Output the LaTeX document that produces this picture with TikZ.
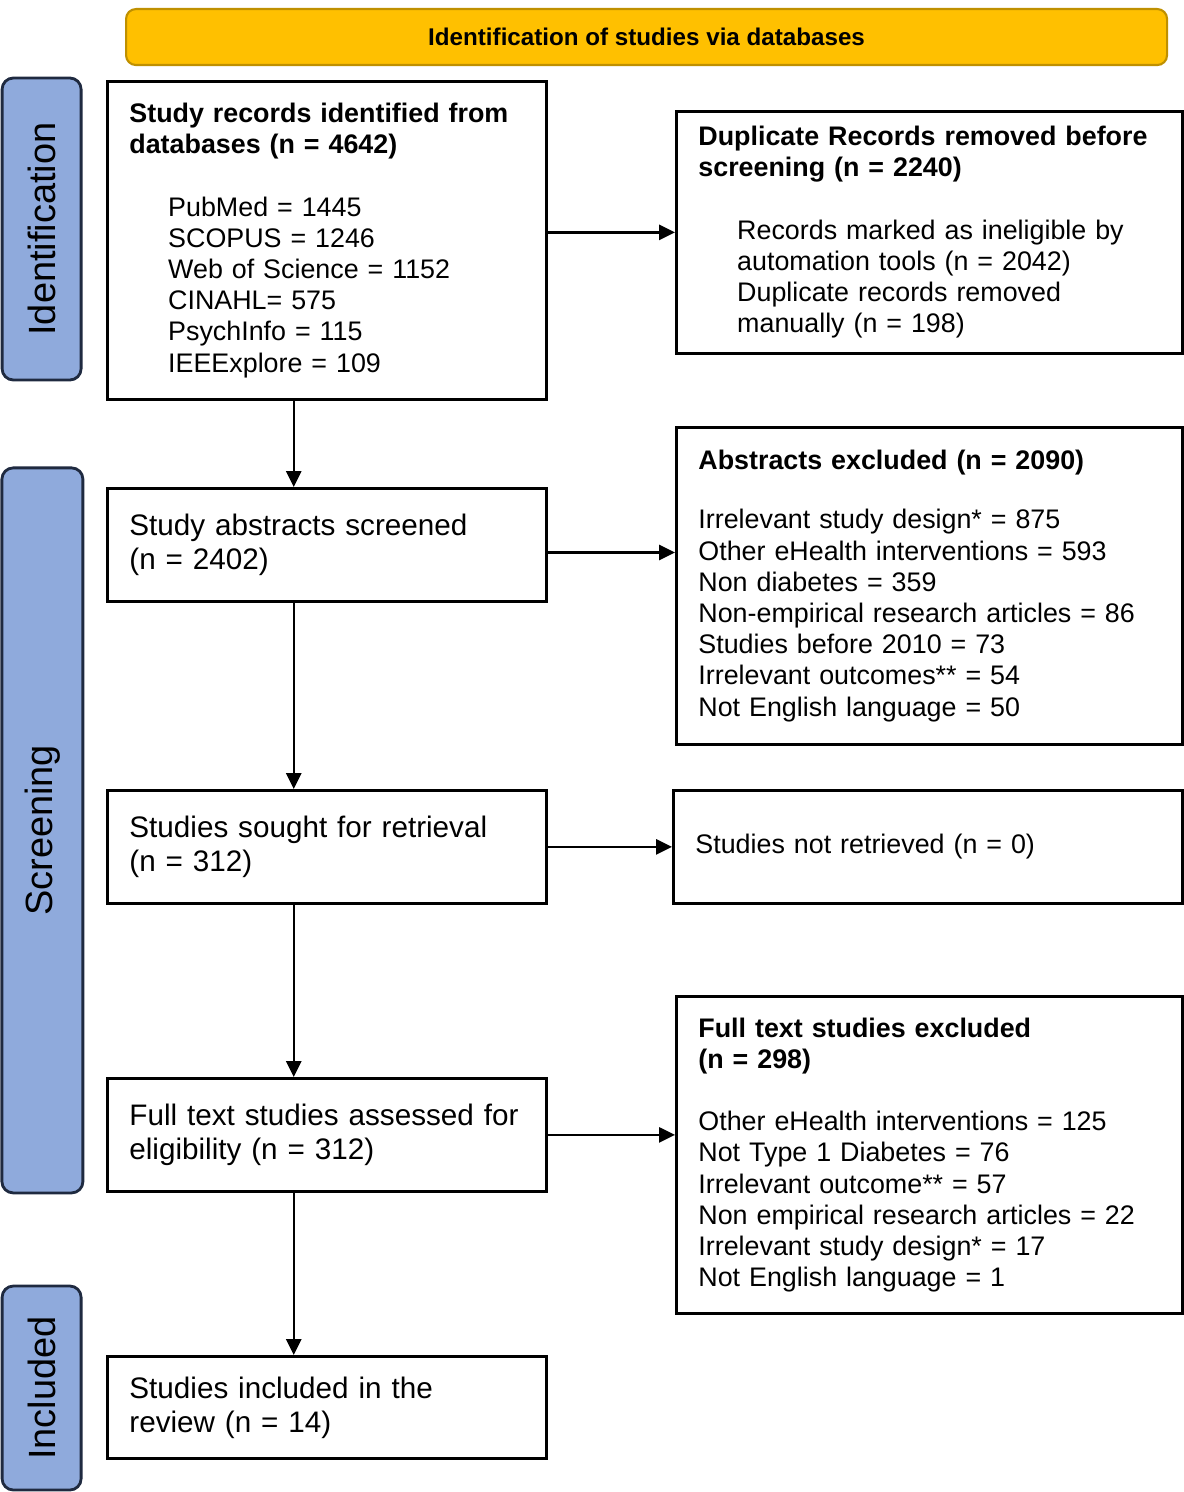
\documentclass[tikz,border=0pt]{standalone}
\usepackage{fontspec}
\setmainfont{Liberation Sans}
\usetikzlibrary{positioning, arrows.meta, calc}

\definecolor{bannergold}{HTML}{FFC000}
\definecolor{banneredge}{HTML}{BF9000}
\definecolor{phaseblue}{HTML}{8FAADC}
\definecolor{phaseedge}{HTML}{1F2A40}

\newcommand{\ind}{\hspace*{9.7mm}}

\begin{document}
\begin{tikzpicture}[
    box/.style={
        rectangle,
        draw=black,
        line width=2pt,
        anchor=north west,
        inner xsep=0.55cm,
        inner ysep=0pt,
        align=left,
        font=\fontsize{19.1}{22.2}\selectfont
    },
    leftbox/.style={box, text width=9.875cm, minimum width=10.975cm},
    rightbox/.style={box, text width=11.55cm, minimum width=12.65cm},
    mainbox/.style={leftbox, minimum height=2.825cm, font=\fontsize{21.1}{24.2}\selectfont},
    phase/.style={
        rectangle,
        draw=phaseedge,
        fill=phaseblue,
        line width=2pt,
        rounded corners=8pt,
        rotate=90,
        font=\fontsize{27}{30}\selectfont
    },
    banner/.style={
        rectangle,
        draw=banneredge,
        fill=bannergold,
        line width=1.5pt,
        rounded corners=7pt,
        anchor=north west,
        minimum width=26.025cm,
        minimum height=1.4cm,
        font=\fontsize{17.2}{20}\selectfont\bfseries
    },
    arrow/.style={-{Triangle[length=4mm, width=3.8mm]}, line width=1.6pt}
]

\useasboundingbox (0,0) rectangle (29.6,-37.3);

% Title
\node[banner] (title) at (3.125,-0.2) {Identification of studies via databases};

% Phases
\node[phase, minimum width=7.55cm, minimum height=1.975cm] (ident) at (1.04,-5.725) {Identification};
\node[phase, minimum width=18.125cm, minimum height=2.025cm] (screen) at (1.06,-20.76) {Screening};
\node[phase, minimum width=5.1cm, minimum height=1.975cm] (incl) at (1.04,-34.7) {Included};

% Identification
\node[leftbox, minimum height=7.95cm] (records) at (2.65,-2.0) {%
    \textbf{Study records identified from}\\
    \textbf{databases (n = 4642)}\\[22.2pt]
    \ind PubMed = 1445\\
    \ind SCOPUS = 1246\\
    \ind Web of Science = 1152\\
    \ind CINAHL= 575\\
    \ind PsychInfo = 115\\
    \ind IEEExplore = 109\\[8pt]};

\node[rightbox, minimum height=6.05cm] (dupl) at (16.875,-2.75) {%
    \textbf{Duplicate Records removed before}\\
    \textbf{screening (n = 2240)}\\[22.2pt]
    \ind Records marked as ineligible by\\
    \ind automation tools (n = 2042)\\
    \ind Duplicate records removed\\
    \ind manually (n = 198)};

% Screening
\node[mainbox] (abstr) at (2.65,-12.175) {Study abstracts screened\\(n = 2402)};

\node[rightbox, minimum height=7.925cm] (abexcl) at (16.875,-10.65) {%
    \textbf{Abstracts excluded (n = 2090)}\\[20pt]
    Irrelevant study design* = 875\\
    Other eHealth interventions = 593\\
    Non diabetes = 359\\
    Non-empirical research articles = 86\\
    Studies before 2010 = 73\\
    Irrelevant outcomes** = 54\\
    Not English language = 50\\[10pt]};

\node[mainbox] (sought) at (2.65,-19.725) {Studies sought for retrieval\\(n = 312)};

\node[box, text width=11.625cm, minimum width=12.725cm, minimum height=2.825cm] (notret) at (16.8,-19.725) {Studies not retrieved (n = 0)};

\node[mainbox] (full) at (2.65,-26.925) {Full text studies assessed for\\eligibility (n = 312)};

\node[rightbox, minimum height=7.925cm] (ftexcl) at (16.875,-24.875) {%
    \textbf{Full text studies excluded}\\
    \textbf{(n = 298)}\\[22.2pt]
    Other eHealth interventions = 125\\
    Not Type 1 Diabetes = 76\\
    Irrelevant outcome** = 57\\
    Non empirical research articles = 22\\
    Irrelevant study design* = 17\\
    Not English language = 1\\[6pt]};

% Included
\node[leftbox, minimum height=2.55cm, font=\fontsize{21.1}{24.2}\selectfont] (included) at (2.65,-33.875) {Studies included in the\\review (n = 14)};

% Arrows
\draw[arrow] (records.east |- dupl.west) -- (dupl.west);
\draw[arrow] ([xshift=-8.3mm]records.south) -- ([xshift=-8.3mm]abstr.north);
\draw[arrow] ([yshift=-1.9mm]abstr.east) -- ([yshift=-1.9mm]abstr.east -| abexcl.west);
\draw[arrow] ([xshift=-8.3mm]abstr.south) -- ([xshift=-8.3mm]sought.north);
\draw[arrow] (sought.east) -- (notret.west);
\draw[arrow] ([xshift=-8.3mm]sought.south) -- ([xshift=-8.3mm]full.north);
\draw[arrow] (full.east) -- (full.east -| ftexcl.west);
\draw[arrow] ([xshift=-8.3mm]full.south) -- ([xshift=-8.3mm]included.north);

\end{tikzpicture}
\end{document}
